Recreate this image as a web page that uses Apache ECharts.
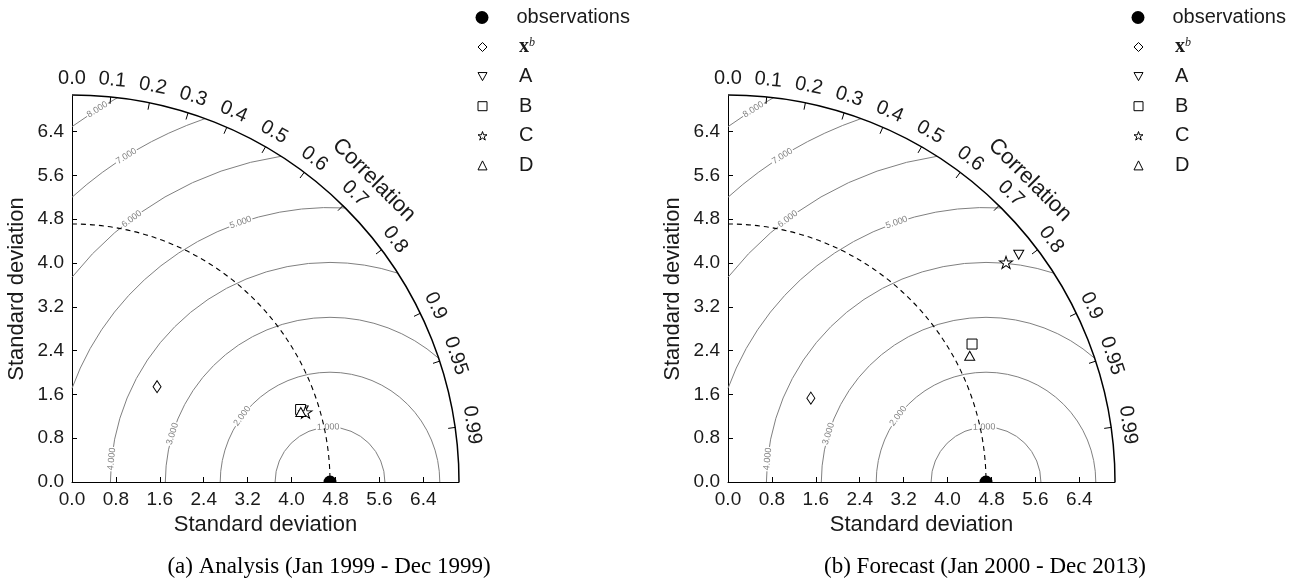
<!DOCTYPE html>
<html>
<head>
<meta charset="utf-8">
<script src="https://cdn.jsdelivr.net/npm/echarts@6/dist/echarts.min.js"></script>
<style>
	html, body { margin: 0; padding: 0; background: #fff; }
	#chart { width: 1304px; height: 583px; }
</style>
</head>
<body>
<div id="chart"></div>
<script>
// ---- data ----
const stdMax = 7.05
const obsStd = 4.7
const rmsLevels = [1, 2, 3, 4, 5, 6, 7, 8]
const stdTicks = [0, 0.8, 1.6, 2.4, 3.2, 4.0, 4.8, 5.6, 6.4]
const corrTicks = [0, 0.1, 0.2, 0.3, 0.4, 0.5, 0.6, 0.7, 0.8, 0.9, 0.95, 0.99]
const modelNames = ['xb', 'A', 'B', 'C', 'D']
// (a) analysis
const analysisStd = [2.33, 4.41, 4.37, 4.44, 4.36]
const analysisCorr = [0.665, 0.955, 0.953, 0.958, 0.956]
// (b) forecast
const forecastStd = [2.15, 6.73, 5.11, 6.46, 4.97]
const forecastCorr = [0.702, 0.787, 0.87, 0.784, 0.886]
const captions = ['(a) Analysis (Jan 1999 - Dec 1999)', '(b) Forecast (Jan 2000 - Dec 2013)']

const font = 'Liberation Sans'
const serif = 'Liberation Serif'
const starPath = 'path://M50,2 L61.8,37.6 L99,37.6 L68.9,59.6 L80.4,95 L50,73.2 L19.6,95 L31.1,59.6 L1,37.6 L38.2,37.6 Z'
const downTriPath = 'path://M0,0 L10,0 L5,9 Z'
const markers = {
	xb: { symbol: 'diamond', size: [8, 12] },
	A: { symbol: downTriPath, size: [10, 9] },
	B: { symbol: 'rect', size: [10, 10] },
	C: { symbol: starPath, size: [13, 12] },
	D: { symbol: 'triangle', size: [10, 9] }
}
// where the rms labels sit on each contour (degrees around the obs point)
const rmsLabelAngle = [92, 143, 163, 174, 109, 127, 122, 122]

const panelLeft = [72, 728]
const hollow = { color: '#fff', borderColor: '#000', borderWidth: 1 }
const chart = echarts.init(document.getElementById('chart'))

const frameSeries = (p) => ({
	type: 'custom',
	xAxisIndex: p,
	yAxisIndex: p,
	silent: true,
	z: 3,
	data: [[0, 0]],
	renderItem: (params, api) => {
		const o = api.coord([0, 0])
		const R = api.size([stdMax, 0])[0]
		const rObs = api.size([obsStd, 0])[0]
		const children = [
			{
				type: 'arc',
				shape: { cx: o[0], cy: o[1], r: R, startAngle: -Math.PI / 2, endAngle: 0, clockwise: true },
				style: { stroke: '#000', lineWidth: 1.5, fill: null }
			},
			{
				type: 'arc',
				shape: { cx: o[0], cy: o[1], r: rObs, startAngle: -Math.PI / 2, endAngle: 0, clockwise: true },
				style: { stroke: '#000', lineWidth: 1.1, fill: null, lineDash: [5, 4] }
			}
		]
		corrTicks.forEach((c) => {
			const t = Math.acos(c)
			const cs = Math.cos(t)
			const sn = Math.sin(t)
			if (c > 0) {
				children.push({
					type: 'line',
					shape: { x1: o[0] + R * cs, y1: o[1] - R * sn, x2: o[0] + (R - 7) * cs, y2: o[1] - (R - 7) * sn },
					style: { stroke: '#000', lineWidth: 1 }
				})
			}
			children.push({
				type: 'text',
				x: o[0] + (R + 17) * cs,
				y: o[1] - (R + 17) * sn,
				rotation: t - Math.PI / 2,
				style: {
					text: c === 0 ? '0.0' : String(c),
					fontSize: 20,
					fontFamily: font,
					fill: '#1a1a1a',
					align: 'center',
					verticalAlign: 'middle'
				}
			})
		})
		children.push({
			type: 'text',
			x: o[0] + (R + 40) * Math.cos(Math.PI / 4),
			y: o[1] - (R + 40) * Math.sin(Math.PI / 4),
			rotation: -Math.PI / 4,
			style: {
				text: 'Correlation',
				fontSize: 22,
				fontFamily: font,
				fill: '#1a1a1a',
				align: 'center',
				verticalAlign: 'middle'
			}
		})
		return { type: 'group', children }
	}
})

const contourSeries = (p) => ({
	type: 'custom',
	xAxisIndex: p,
	yAxisIndex: p,
	silent: true,
	z: 2,
	encode: { x: 0, y: 1 },
	data: rmsLevels.map((v) => [obsStd, 0, v]),
	renderItem: (params, api) => {
		const lv = api.value(2)
		const c = api.coord([obsStd, 0])
		const r = api.size([lv, 0])[0]
		// clip the circle to the quarter disc
		let a1 = 0
		if (obsStd + lv > stdMax) {
			const xi = (stdMax * stdMax - lv * lv + obsStd * obsStd) / (2 * obsStd)
			a1 = Math.acos((xi - obsStd) / lv)
		}
		let a2 = Math.PI
		if (lv > obsStd) a2 = Math.acos(-obsStd / lv)
		const la = (rmsLabelAngle[params.dataIndex] * Math.PI) / 180
		return {
			type: 'group',
			children: [
				{
					type: 'arc',
					shape: { cx: c[0], cy: c[1], r, startAngle: -a2, endAngle: -a1, clockwise: true },
					style: { stroke: '#808080', lineWidth: 1, fill: null }
				},
				{
					type: 'text',
					x: c[0] + r * Math.cos(la),
					y: c[1] - r * Math.sin(la),
					rotation: la - Math.PI / 2,
					style: {
						text: lv.toFixed(3),
						fontSize: 9,
						fontFamily: font,
						fill: '#808080',
						align: 'center',
						verticalAlign: 'middle',
						backgroundColor: '#fff',
						padding: [0, 1]
					}
				}
			]
		}
	}
})

const obsSeries = (p) => ({
	type: 'custom',
	name: 'observations',
	xAxisIndex: p,
	yAxisIndex: p,
	z: 5,
	itemStyle: { color: '#000' },
	data: [[obsStd, 0]],
	renderItem: (params, api) => {
		const c = api.coord([api.value(0), api.value(1)])
		return {
			type: 'sector',
			shape: { cx: c[0], cy: c[1], r0: 0, r: 6.5, startAngle: Math.PI, endAngle: 2 * Math.PI, clockwise: true },
			style: { fill: '#000' }
		}
	}
})

const modelSeries = (p, stds, corrs) =>
	modelNames.map((name, i) => ({
		type: 'scatter',
		name,
		xAxisIndex: p,
		yAxisIndex: p,
		z: 6,
		symbol: markers[name].symbol,
		symbolSize: markers[name].size,
		itemStyle: Object.assign({ opacity: 1 }, hollow),
		data: [[stds[i] * corrs[i], stds[i] * Math.sqrt(1 - corrs[i] * corrs[i])]]
	}))

const axisCommon = (p, gap) => ({
	gridIndex: p,
	type: 'value',
	min: 0,
	max: stdMax,
	axisLine: { show: true, onZero: false, lineStyle: { color: '#000', width: 1 } },
	axisTick: { show: true, inside: true, length: 5, customValues: stdTicks.slice(1), lineStyle: { color: '#000' } },
	axisLabel: {
		customValues: stdTicks,
		formatter: (v) => v.toFixed(1),
		fontSize: 19,
		fontFamily: font,
		color: '#1a1a1a',
		margin: 8
	},
	splitLine: { show: false },
	name: 'Standard deviation',
	nameLocation: 'middle',
	nameGap: gap,
	nameTextStyle: { fontSize: 22, fontFamily: font, color: '#1a1a1a' }
})

const legendText = {
	fontSize: 20,
	fontFamily: font,
	color: '#1a1a1a',
	lineHeight: 20,
	rich: {
		bx: { fontFamily: serif, fontWeight: 'bold', fontSize: 20, lineHeight: 20, color: '#1a1a1a' },
		sup: { fontFamily: serif, fontStyle: 'italic', fontSize: 12, lineHeight: 12, verticalAlign: 'top', color: '#1a1a1a' }
	}
}

const legends = []
panelLeft.forEach((gx) => {
	const cx = gx + 410
	legends.push({
		orient: 'vertical',
		left: cx - 6.5,
		top: 7.5,
		padding: 0,
		itemWidth: 13,
		itemHeight: 13,
		selectedMode: false,
		data: [{ name: 'observations', icon: 'circle', itemStyle: { color: '#000', borderWidth: 0 } }],
		textStyle: Object.assign({}, legendText, { padding: [0, 0, 0, 23] })
	})
	legends.push({
		orient: 'vertical',
		left: cx - 4.5,
		top: 37,
		padding: 0,
		itemWidth: 9,
		itemHeight: 9,
		itemGap: 9.6,
		selectedMode: false,
		itemStyle: hollow,
		data: modelNames.map((n) => ({ name: n, itemStyle: hollow })),
		formatter: (n) => (n === 'xb' ? '{bx|x}{sup|b}' : n),
		textStyle: Object.assign({}, legendText, { padding: [0, 0, 0, 27] })
	})
})

const option = {
	animation: false,
	backgroundColor: '#fff',
	textStyle: { fontFamily: font },
	grid: panelLeft.map((l) => ({ left: l, top: 96, width: 387, height: 386, containLabel: false, outerBoundsMode: 'none' })),
	xAxis: [axisCommon(0, 28), axisCommon(1, 28)],
	yAxis: [axisCommon(0, 44), axisCommon(1, 44)],
	legend: legends,
	graphic: captions.map((t, i) => ({
		type: 'text',
		x: panelLeft[i] + 257,
		y: 567,
		style: { text: t, fontSize: 23, fontFamily: serif, fill: '#000', align: 'center', verticalAlign: 'middle' }
	})),
	series: [
		contourSeries(0),
		frameSeries(0),
		obsSeries(0),
		...modelSeries(0, analysisStd, analysisCorr),
		contourSeries(1),
		frameSeries(1),
		obsSeries(1),
		...modelSeries(1, forecastStd, forecastCorr)
	]
}

chart.setOption(option)
</script>
</body>
</html>
